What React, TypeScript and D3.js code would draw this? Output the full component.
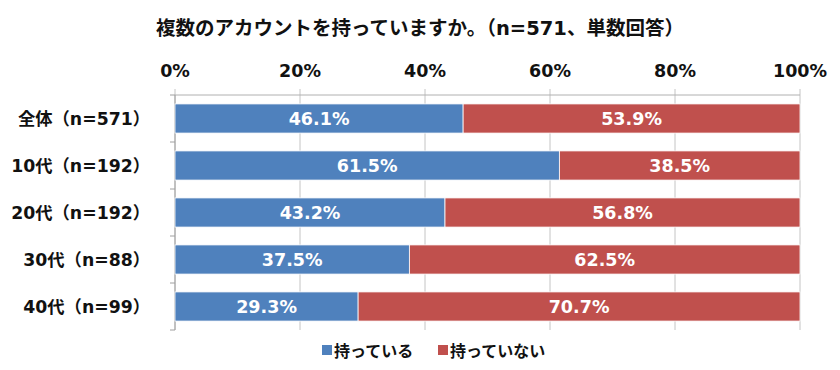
import React from "react";
import * as d3 from "d3";

const categories = ["全体（n=571）", "10代（n=192）", "20代（n=192）", "30代（n=88）", "40代（n=99）"];
const haveValues = [46.1, 61.5, 43.2, 37.5, 29.3];
const notHaveValues = [53.9, 38.5, 56.8, 62.5, 70.7];
const seriesNames = ["持っている", "持っていない"];
const tickValues = [0, 20, 40, 60, 80, 100];
const title = "複数のアカウントを持っていますか。（n=571、単数回答）";
const colors = ["#4F81BD", "#C0504D"];

const W = 840, H = 370;
const left = 175, right = 800, top = 95, bottom = 330;
const font = "'DejaVu Sans', 'Noto Sans CJK JP', sans-serif";

export default function App() {
  const x = d3.scaleLinear().domain([0, 100]).range([left, right]);
  const y = d3.scaleBand<string>().domain(categories).range([top, bottom]).paddingInner(0.38).paddingOuter(0.19);
  const stack = d3.stack<number>().keys(["0", "1"]).value((i, k) => (k === "0" ? haveValues[i] : notHaveValues[i]));
  const series = stack(d3.range(categories.length));
  const step = (bottom - top) / categories.length;
  return (
    <svg width={W} height={H} style={{ position: "absolute", left: 0, top: 0, background: "#fff" }} fontFamily={font}>
      <text x={420} y={35} textAnchor="middle" fontSize={19.5} fontWeight="bold" fill="#111">{title}</text>
      {tickValues.map(t => (
        <g key={t}>
          <line x1={x(t)} x2={x(t)} y1={top - 6} y2={bottom} stroke="#c4c4c4" strokeWidth={1} />
          <text x={x(t)} y={77} textAnchor="middle" fontSize={17.5} fontWeight="bold" fill="#111">{t}%</text>
        </g>
      ))}
      <line x1={left} x2={right} y1={top} y2={top} stroke="#b0b0b0" />
      <line x1={left} x2={left} y1={top} y2={bottom} stroke="#a0a0a0" />
      {d3.range(categories.length + 1).map(i => (
        <line key={i} x1={left - 5} x2={left} y1={top + i * step} y2={top + i * step} stroke="#a0a0a0" />
      ))}
      {series.map((s, si) => (
        <g key={si}>
          {s.map((d, i) => (
            <g key={i}>
              <rect x={x(d[0])} y={y(categories[i])} width={x(d[1]) - x(d[0])} height={y.bandwidth()} fill={colors[si]} stroke="#fff" strokeWidth={0.8} />
              <text x={(x(d[0]) + x(d[1])) / 2} y={(y(categories[i]) as number) + y.bandwidth() / 2 + 6.5} textAnchor="middle" fontSize={17.5} fontWeight="bold" fill="#fff">
                {(si === 0 ? haveValues[i] : notHaveValues[i]).toFixed(1)}%
              </text>
            </g>
          ))}
        </g>
      ))}
      {categories.map(c => (
        <text key={c} x={150} y={(y(c) as number) + y.bandwidth() / 2 + 6.5} textAnchor="end" fontSize={17.3} fontWeight="bold" fill="#111">{c}</text>
      ))}
      <g>
        <rect x={322} y={345} width={10} height={10} fill={colors[0]} />
        <text x={334} y={357} fontSize={16} fontWeight="bold" fill="#111">{seriesNames[0]}</text>
        <rect x={438} y={345} width={10} height={10} fill={colors[1]} />
        <text x={450} y={357} fontSize={16} fontWeight="bold" fill="#111">{seriesNames[1]}</text>
      </g>
    </svg>
  );
}
